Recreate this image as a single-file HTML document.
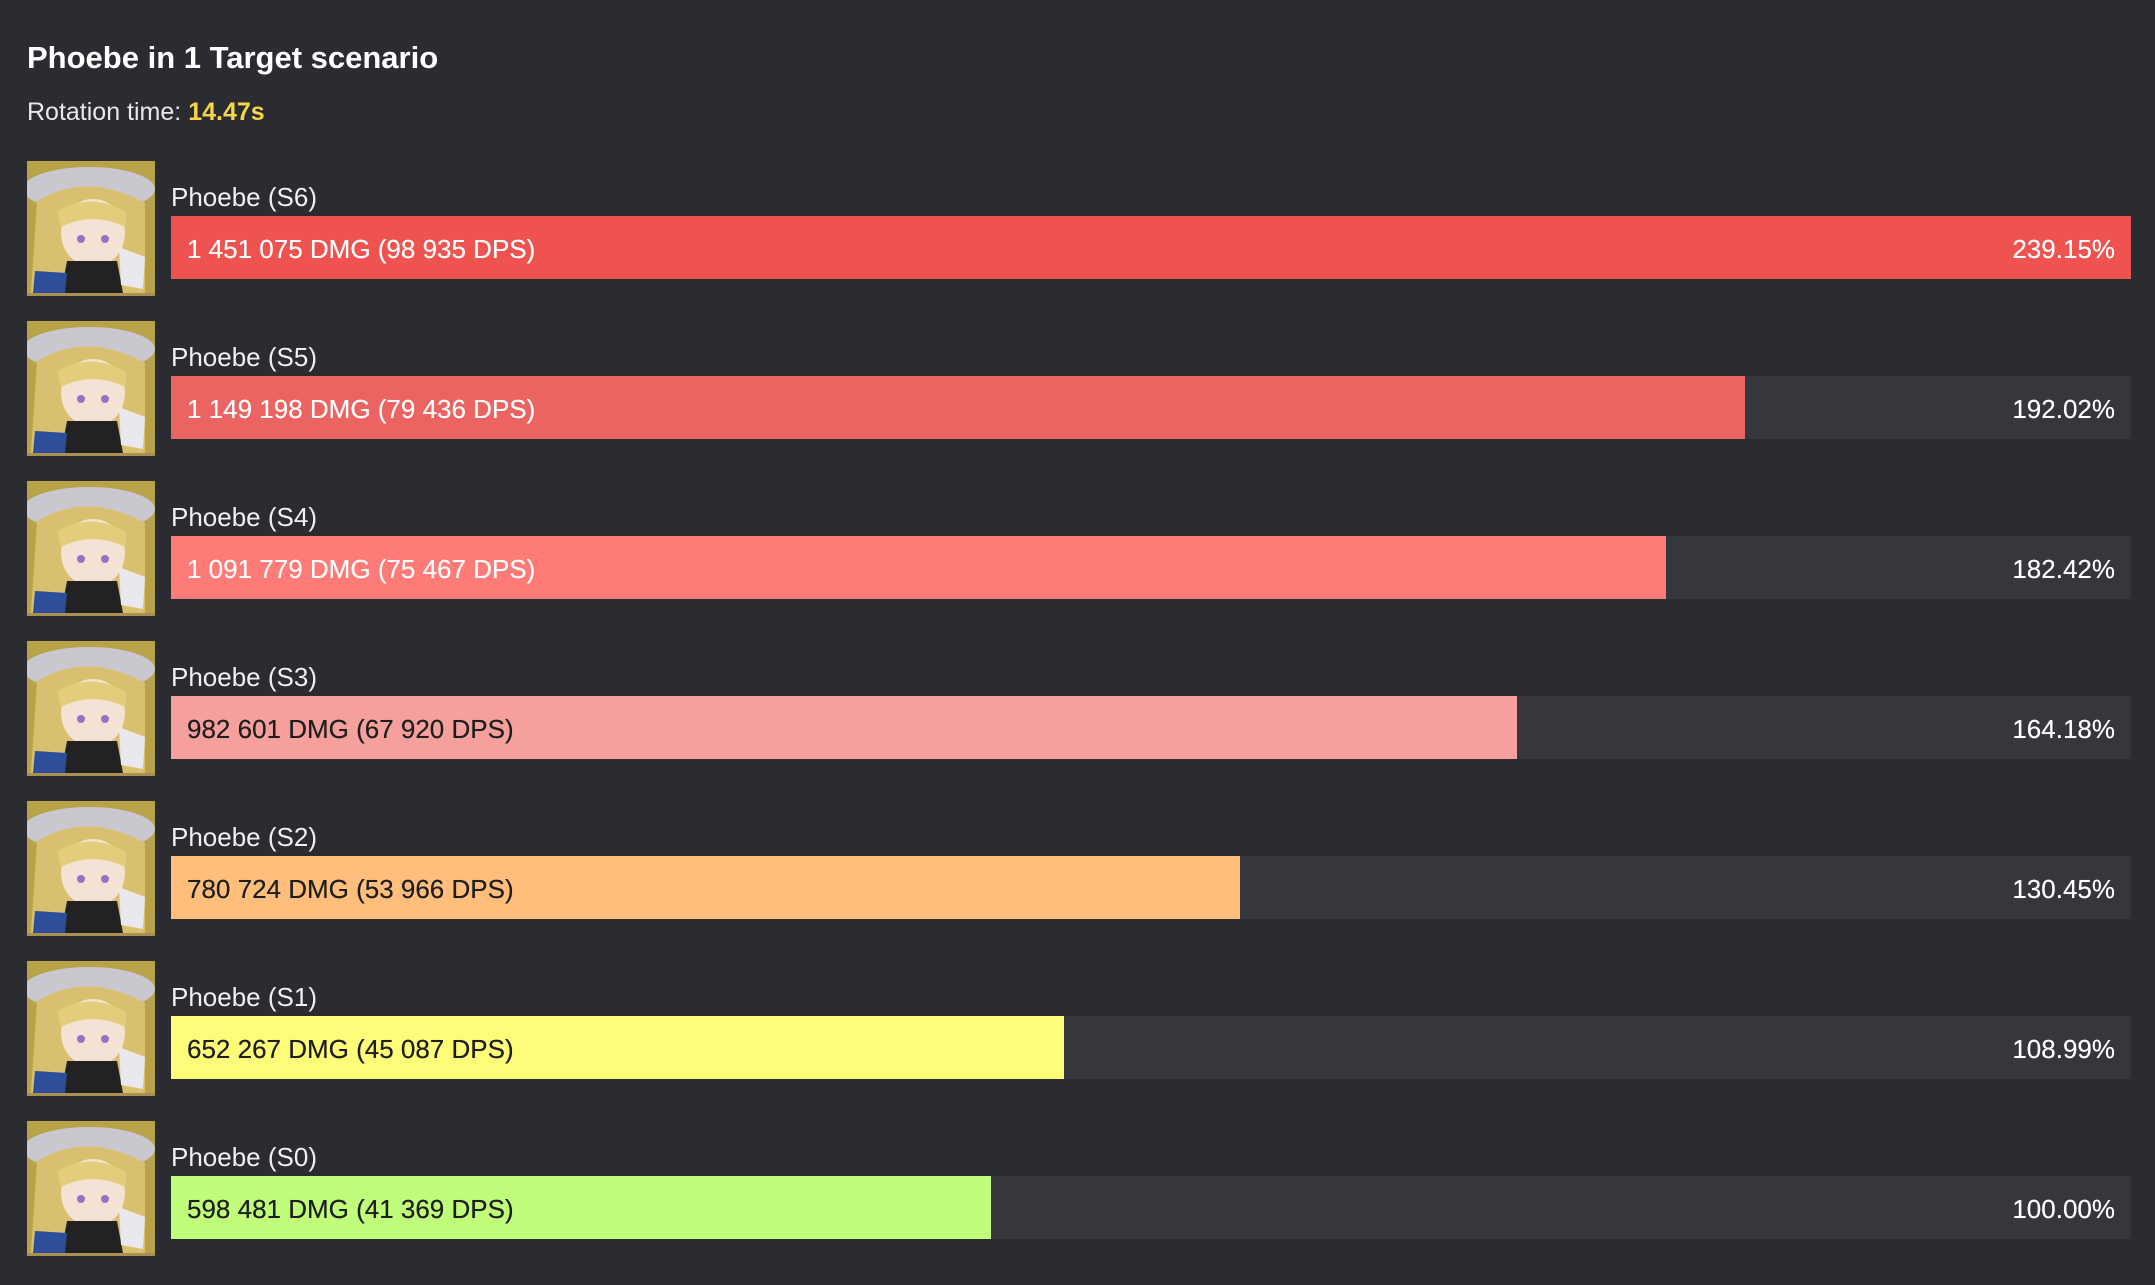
<!DOCTYPE html>
<html><head><meta charset="utf-8"><style>
body{margin:0;width:2155px;height:1285px;background:#2b2c31;font-family:"Liberation Sans",sans-serif;color:#fff;overflow:hidden;position:relative}
.t{position:absolute;left:27px;top:40px;font-size:31px;font-weight:bold}
.r{position:absolute;left:27px;top:98px;font-size:25px;color:#e8e8e8}
.r b{color:#f5d64a}
.row{position:absolute;left:0;width:2155px;height:140px}
.av{position:absolute;left:27px;top:0;width:128px;height:135px}
.lb{position:absolute;left:171px;top:21px;font-size:26px;color:#f0f0f0}
.tr{position:absolute;left:171px;top:55px;width:1960px;height:63px;background:#36373c}
.bar{position:absolute;left:0;top:0;height:63px}
.v{position:absolute;left:16px;top:18px;font-size:26px;text-shadow:0 0 0.4px currentColor}
.p{position:absolute;right:16px;top:18px;font-size:26px;color:#fff;text-shadow:0 0 0.4px currentColor}
</style></head><body>
<div class="t">Phoebe in 1 Target scenario</div>
<div class="r">Rotation time: <b>14.47s</b></div>
<div id="rows"></div>
<script>
const labels=["Phoebe (S6)","Phoebe (S5)","Phoebe (S4)","Phoebe (S3)","Phoebe (S2)","Phoebe (S1)","Phoebe (S0)"];
const dmg=["1 451 075","1 149 198","1 091 779","982 601","780 724","652 267","598 481"];
const dps=["98 935","79 436","75 467","67 920","53 966","45 087","41 369"];
const pct=[239.15,192.02,182.42,164.18,130.45,108.99,100.00];
const colors=["#ee5350","#ec6462","#ff7b78","#f5a09d","#ffbe7b","#fdfd7a","#c0fd7a"];
const textColors=["#fff","#fff","#fff","#1e1e1e","#1e1e1e","#1e1e1e","#1e1e1e"];
const maxP=Math.max(...pct);
const av=`<svg width="128" height="135" viewBox="0 0 128 135"><rect width="128" height="135" fill="#a98f52"/><rect y="0" width="128" height="132" fill="#b8a24a"/><ellipse cx="62" cy="28" rx="66" ry="22" fill="#c9c8cf"/><path d="M10 40 Q60 10 118 42 L118 132 L4 132 Z" fill="#d9c071"/><ellipse cx="66" cy="72" rx="32" ry="34" fill="#f4e2d4"/><path d="M30 50 Q66 30 100 52 L98 66 Q66 50 34 66 Z" fill="#e3cc7c"/><path d="M40 100 L90 100 L96 132 L34 132 Z" fill="#222"/><path d="M8 110 L40 112 L38 132 L6 132 Z" fill="#2d4f9a"/><path d="M92 86 L118 96 L116 128 L94 124 Z" fill="#e8e8ee"/><circle cx="54" cy="78" r="4" fill="#9a6fc0"/><circle cx="78" cy="78" r="4" fill="#9a6fc0"/></svg>`;
const root=document.getElementById('rows');
for(let i=0;i<labels.length;i++){
  const row=document.createElement('div');
  row.className='row';row.style.top=(161+i*160)+'px';
  
  
  const a=document.createElement('div');a.className='av';a.innerHTML=av;
  
  
  const l=document.createElement('div');l.className='lb';l.textContent=labels[i];
  
  
  const tr=document.createElement('div');tr.className='tr';
  
  
  const b=document.createElement('div');b.className='bar';
  b.style.width=(pct[i]/maxP*1960)+'px';b.style.background=colors[i];
  
  
  const v=document.createElement('div');v.className='v';v.style.color=textColors[i];
  v.textContent=dmg[i]+' DMG ('+dps[i]+' DPS)';
  
  
  const p=document.createElement('div');p.className='p';p.textContent=pct[i].toFixed(2)+'%';
  
  
  tr.appendChild(b);tr.appendChild(v);tr.appendChild(p);
  row.appendChild(a);row.appendChild(l);row.appendChild(tr);
  root.appendChild(row);
}
</script>
</body></html>
